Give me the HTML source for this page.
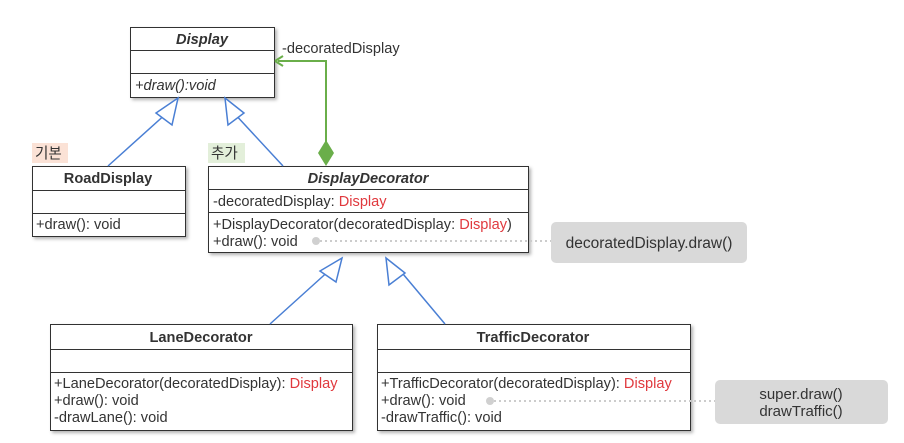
<!DOCTYPE html>
<html><head><meta charset="utf-8"><style>
body{margin:0;background:#fff;width:904px;height:438px;overflow:hidden}
svg text{font-family:"Liberation Sans","Noto Sans CJK KR",sans-serif;font-size:14.6px;fill:#333}
</style></head><body>
<svg width="904" height="438" xmlns="http://www.w3.org/2000/svg">
<defs><filter id="s" x="-5%" y="-5%" width="115%" height="120%"><feDropShadow dx="2" dy="2" stdDeviation="1.5" flood-color="#000" flood-opacity="0.3"/></filter></defs>
<g fill="#fff" stroke="#333" stroke-width="1">
<rect x="130.5" y="27.5" width="144" height="70" filter="url(#s)"/>
<rect x="32.5" y="166.5" width="153" height="70" filter="url(#s)"/>
<rect x="208.5" y="166.5" width="320" height="86" filter="url(#s)"/>
<rect x="50.5" y="324.5" width="302" height="106" filter="url(#s)"/>
<rect x="377.5" y="324.5" width="313" height="106" filter="url(#s)"/>
<path d="M130 50.5H274M130 73.5H274M32 190.5H185M32 213.5H185M208 189.5H528M208 212.5H528M50 349.5H352M50 372.5H352M377 349.5H690M377 372.5H690"/>
</g>
<rect x="32" y="143" width="36" height="20" fill="#fbe2d6"/>
<rect x="208" y="143" width="37" height="20" fill="#e3efda"/>
<text x="35" y="158">기본</text><text x="211" y="158">추가</text>
<g stroke="#4a7fd4" stroke-width="1.5" fill="#fff">
<path d="M108 166L168 112M283 166L233 112M270 324L332 268M445 324L398 268"/>
<path d="M178 98L156 113L172 125Z"/><path d="M225 98L228 125L244 113Z"/>
<path d="M342 258L320 271L336 282Z"/><path d="M386 258L389 285L405 273Z"/>
</g>
<path d="M326 145V61H278" stroke="#6aae4a" stroke-width="2" fill="none"/>
<path d="M275 61L283 56M275 61L283 66" stroke="#6aae4a" stroke-width="2"/>
<path d="M326 140L334 153L326 166L318 153Z" fill="#6aae4a"/>
<text x="282" y="53" fill="#555">-decoratedDisplay</text>
<text x="202" y="44" text-anchor="middle" font-style="italic" font-weight="bold" fill="#222">Display</text>
<text x="135" y="90" font-style="italic" fill="#444">+draw():void</text>
<text x="108" y="183" text-anchor="middle" font-weight="bold" fill="#222">RoadDisplay</text>
<text x="36" y="229">+draw(): void</text>
<text x="368" y="183" text-anchor="middle" font-style="italic" font-weight="bold" fill="#222">DisplayDecorator</text>
<text x="213" y="206">-decoratedDisplay: <tspan fill="#e0393e">Display</tspan></text>
<text x="213" y="229">+DisplayDecorator(decoratedDisplay: <tspan fill="#e0393e">Display</tspan>)</text>
<text x="213" y="246">+draw(): void</text>
<text x="201" y="342" text-anchor="middle" font-weight="bold" fill="#222">LaneDecorator</text>
<text x="54" y="388">+LaneDecorator(decoratedDisplay): <tspan fill="#e0393e">Display</tspan></text>
<text x="54" y="405">+draw(): void</text>
<text x="54" y="422">-drawLane(): void</text>
<text x="533" y="342" text-anchor="middle" font-weight="bold" fill="#222">TrafficDecorator</text>
<text x="381" y="388">+TrafficDecorator(decoratedDisplay): <tspan fill="#e0393e">Display</tspan></text>
<text x="381" y="405">+draw(): void</text>
<text x="381" y="422">-drawTraffic(): void</text>
<circle cx="316" cy="241" r="4" fill="#d0d0d0"/>
<path d="M320 241H551" stroke="#ccc" stroke-width="2" stroke-dasharray="2 3"/>
<circle cx="490" cy="401" r="4" fill="#d0d0d0"/>
<path d="M494 401H715" stroke="#ccc" stroke-width="2" stroke-dasharray="2 3"/>
<rect x="551" y="222" width="196" height="41" rx="5" fill="#d9d9d9"/>
<text x="649" y="248" text-anchor="middle" fill="#222" style="font-size:15.5px">decoratedDisplay.draw()</text>
<rect x="715" y="380" width="173" height="44" rx="5" fill="#d9d9d9"/>
<text x="801" y="399" text-anchor="middle" fill="#222" style="font-size:15px">super.draw()</text>
<text x="801" y="416" text-anchor="middle" fill="#222" style="font-size:15px">drawTraffic()</text>
</svg>
</body></html>
